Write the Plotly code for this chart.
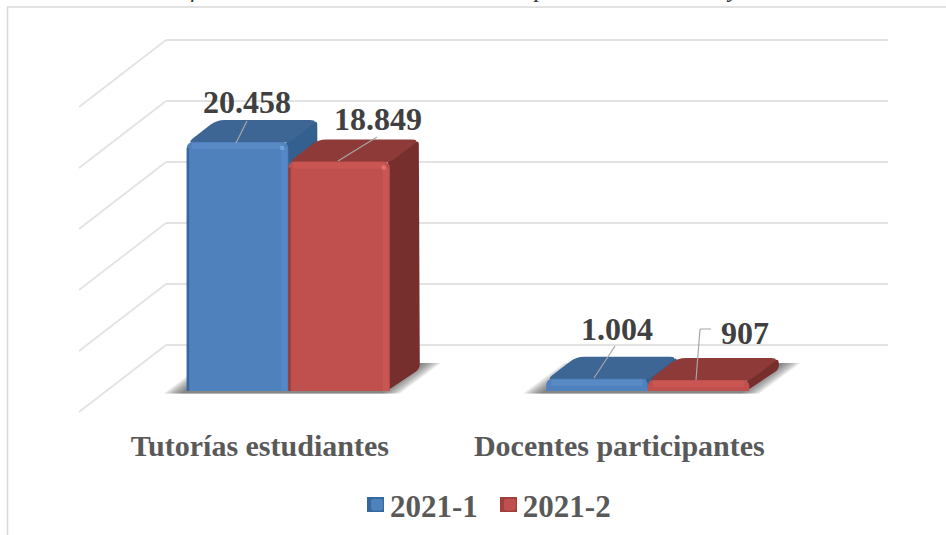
import math
import plotly.graph_objects as go

categories = ["Tutorías estudiantes", "Docentes participantes"]
series_names = ["2021-1", "2021-2"]
values_2021_1 = [20458, 1004]
values_2021_2 = [18849, 907]
grid_values = [0, 5000, 10000, 15000, 20000, 25000]
title_head = "Gráfica 30. Tutorías a estudiantes"
title_tail = " por docente 2021-1 y 2"

W, H = 946, 535
FONT = "Liberation Serif"
S = 249 / 20458          # px per value unit
PXU = 359.5              # px per category
X0, Y0 = 288.25, 391     # pixel of category 0 / value 0
BAR = 0.2825
DX, DY = 30 / PXU, 22 / S
YMIN, YMAX = -1000, 30000
WALL_PAD = 200           # value units of axis padding so end grid lines are kept
WALL_S = 305 / 25000


def X(px): return (px - X0) / PXU
def Y(py): return (Y0 - py) / S
def PX(px): return px / W
def PY(py): return 1 - py / H


def rounded(pts, r):
    out = []
    n = len(pts)
    for i in range(n):
        p, a, b = pts[i], pts[i - 1], pts[(i + 1) % n]
        def toward(q):
            d = math.hypot((q[0] - p[0]) * PXU, (q[1] - p[1]) * S)
            t = min(r / d, 0.5) if d else 0
            return (p[0] + (q[0] - p[0]) * t, p[1] + (q[1] - p[1]) * t)
        s, e = toward(a), toward(b)
        out.append(f"{'M' if i == 0 else 'L'} {s[0]},{s[1]} Q {p[0]},{p[1]} {e[0]},{e[1]}")
    return " ".join(out) + " Z"


def poly(pts):
    return "M " + " L ".join(f"{x},{y}" for x, y in pts) + " Z"


shapes = []


def data_shape(path, color, layer="between", opacity=1):
    shapes.append(dict(type="path", path=path, xref="x2", yref="y2", fillcolor=color,
                       line=dict(width=0), layer=layer, opacity=opacity))


def data_rect(x0, x1, y0, y1, color, opacity=1):
    shapes.append(dict(type="rect", x0=x0, x1=x1, y0=y0, y1=y1, xref="x2", yref="y2",
                       fillcolor=color, line=dict(width=0), layer="above", opacity=opacity))


def data_line(points):
    for (a, b), (c, d) in zip(points, points[1:]):
        shapes.append(dict(type="line", x0=X(a), y0=Y(b), x1=X(c), y1=Y(d), xref="x2", yref="y2",
                           line=dict(color="#a6a6a6", width=1.2), layer="above"))


# frame and side walls
shapes.append(dict(type="line", xref="paper", yref="paper", x0=PX(7), x1=1, y0=PY(7), y1=PY(7),
                   line=dict(color="#d9d9d9", width=1.5), layer="below"))
shapes.append(dict(type="line", xref="paper", yref="paper", x0=PX(7.5), x1=PX(7.5), y0=PY(7), y1=0,
                   line=dict(color="#d9d9d9", width=1.5), layer="below"))
for v in grid_values:
    py = 345 - v * WALL_S
    shapes.append(dict(type="line", xref="paper", yref="paper", x0=PX(166), x1=PX(79),
                       y0=PY(py), y1=PY(py + 67), line=dict(color="#e2e2e2", width=1.6), layer="below"))

# floor shadows
for i in range(2):
    xl, xr = i - BAR, i + BAR
    for n in range(9):
        k = n * 2.2 / PXU
        pts = [(xl - 23 / PXU + k, Y(393.5)), (xl + 18 / PXU + k, Y(363)),
               (xr + 51 / PXU - k, Y(363)), (xr + 10 / PXU - k, Y(393.5))]
        data_shape(poly(pts), "#4a4a4a", opacity=0.11)

# 3D depth faces (side then top) computed from the values
styles = [
    dict(base="#4f81bd", top="#3d6694", side="#33608f", left="#2f5f94", right="#5a90d4", light="#6595d0", spec="#86b4ee"),
    dict(base="#c0504d", top="#8e3a38", side="#772f2d", left="#8a3532", right="#d05c58", light="#d45e5a", spec="#f08a86"),
]
all_vals = [values_2021_1, values_2021_2]
for c in range(2):
    for s in range(2):
        v = all_vals[s][c]
        st = styles[s]
        xl = c - BAR + s * BAR
        xr = xl + BAR
        side = [(xr - 3 / PXU, Y(391)), (xr - 3 / PXU, v), (xr + DX - 1 / PXU, v + DY), (xr + DX, DY)]
        data_shape(rounded(side, 5), st["side"])
        top = [(xl, v - 1 / S), (xr, v - 1 / S), (xr + DX, v + DY), (xl + DX, v + DY)]
        data_shape(rounded(top, 8), st["top"])

# bevel strips on the front faces
for c in range(2):
    for s in range(2):
        v = all_vals[s][c]
        st = styles[s]
        xl = c - BAR + s * BAR
        xr = xl + BAR
        data_rect(xl + 5 / PXU, xr - 5 / PXU, v - 7 / S, v - 1 / S, st["light"], 0.45)
        if v * S > 40:
            data_rect(xl, xl + 2.5 / PXU, 0, v - 6 / S, st["left"], 0.75)
            data_rect(xr - 7 / PXU, xr - 1 / PXU, 0, v - 6 / S, st["right"], 0.5)
            data_rect(xr - 8 / PXU, xr - 4 / PXU, v - 8 / S, v - 4 / S, st["spec"], 0.6)

# leader lines (pixel offsets tuned to the reference)
data_line([(247, 121), (236, 143)])
data_line([(377, 137), (338, 161)])
data_line([(615, 346), (594, 378)])
data_line([(711, 329), (700, 329), (696, 380)])

# legend swatch backing
for px_c, col in [(375.5, "#34689f"), (508.5, "#a03e3b")]:
    shapes.append(dict(type="rect", xref="paper", yref="paper", x0=PX(px_c - 8.5), x1=PX(px_c + 8.5),
                       y0=PY(512), y1=PY(497), fillcolor=col, line=dict(width=0), layer="below"))

fig = go.Figure()
fig.add_trace(go.Scatter(x=[0, 1], y=[0, 25000], mode="markers", marker=dict(opacity=0),
                         showlegend=False, hoverinfo="skip", xaxis="x", yaxis="y"))
fig.add_trace(go.Bar(x=[0, 1], y=values_2021_1, name=series_names[0],
                     marker=dict(color=styles[0]["base"], line=dict(width=0)), xaxis="x2", yaxis="y2"))
fig.add_trace(go.Bar(x=[0, 1], y=values_2021_2, name=series_names[1],
                     marker=dict(color=styles[1]["base"], line=dict(width=0)), xaxis="x2", yaxis="y2"))

annotations = []
label_pos = [[(247, 102), (617, 329)], [(377.5, 119), (745, 333)]]
for s in range(2):
    for c in range(2):
        v = all_vals[s][c]
        px_l, py_l = label_pos[s][c]
        annotations.append(dict(x=X(px_l), y=Y(py_l), xref="x2", yref="y2", showarrow=False,
                                text=f"<b>{v:,}</b>".replace(",", "."), xanchor="center", yanchor="middle",
                                font=dict(family=FONT, size=32, color="#404040")))
spaced_head = title_head.replace(" ", " \u00a0\u00a0")
annotations.append(dict(x=PX(150), y=PY(4), xref="paper", yref="paper", showarrow=False,
                        text=f"<i>{spaced_head}{title_tail}</i>",
                        xanchor="left", yanchor="bottom", font=dict(family=FONT, size=24, color="#333333")))

axis_off = dict(showticklabels=False, ticks="", zeroline=False, showline=False, showgrid=False, fixedrange=True)
fig.update_layout(
    width=W, height=H, autosize=False, margin=dict(l=0, r=0, t=0, b=0, pad=0),
    paper_bgcolor="white", plot_bgcolor="rgba(0,0,0,0)",
    barmode="group", bargap=0.435, bargroupgap=0, barcornerradius=6,
    showlegend=True,
    legend=dict(orientation="h", x=PX(483), y=PY(505), xanchor="center", yanchor="middle",
                font=dict(family=FONT, size=31, color="#595959", weight=700), bgcolor="rgba(0,0,0,0)",
                itemwidth=30, traceorder="normal"),
    xaxis=dict(domain=[PX(166), PX(888)], range=[0, 1], **axis_off),
    yaxis=dict(domain=[PY(345 + WALL_PAD * WALL_S), PY(40 - WALL_PAD * WALL_S)],
               range=[-WALL_PAD, 25000 + WALL_PAD], tickmode="array", tickvals=grid_values,
               showticklabels=False, ticks="", zeroline=False, showline=False, showgrid=True,
               gridcolor="#e2e2e2", gridwidth=2, fixedrange=True),
    xaxis2=dict(domain=[PX(X0 - PXU / 2), PX(X0 + PXU * 1.5)], range=[-0.5, 1.5], anchor="y2",
                tickmode="array", tickvals=[-0.079, 0.921], ticktext=categories,
                tickfont=dict(family=FONT, size=30, color="#595959", weight=700),
                ticks="outside", ticklen=16, tickcolor="rgba(0,0,0,0)", showline=False, showgrid=False,
                zeroline=False, fixedrange=True),
    yaxis2=dict(domain=[PY(Y0 - YMIN * S), PY(Y0 - YMAX * S)], range=[YMIN, YMAX], anchor="x2",
                showticklabels=False, ticks="", showline=False, showgrid=False, zeroline=False, fixedrange=True),
    shapes=shapes, annotations=annotations,
)

fig.write_html(
    "out.html",
    config={"displayModeBar": False},
    post_script=(
        "document.body.style.margin='0';document.body.style.overflow='hidden';"
        "document.querySelectorAll('.legend .legendsymbols').forEach(function(g){"
        "g.setAttribute('transform','translate(7,0)');});"
    ),
)
